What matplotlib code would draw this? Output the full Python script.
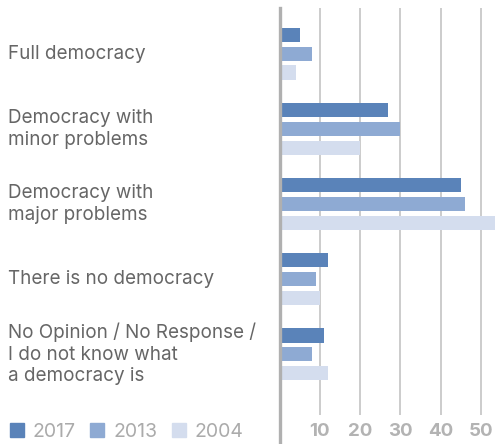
import matplotlib.pyplot as plt
import matplotlib.transforms as mtransforms
from matplotlib.patches import Patch
import numpy as np

categories = ["Full democracy", "Democracy with\nminor problems", "Democracy with\nmajor problems",
              "There is no democracy", "No Opinion / No Response /\nI do not know what\na democracy is"]
years = ["2017", "2013", "2004"]
vals_2017 = [5, 27, 45, 12, 11]
vals_2013 = [8, 30, 46, 9, 8]
vals_2004 = [4, 20, 54, 10, 12]
colors = ["#5a83b9", "#8eaad3", "#d4ddee"]

plt.rcParams['font.family'] = ['Inter', 'DejaVu Sans']

fig = plt.figure(figsize=(4.95, 4.44), dpi=100)
ax = fig.add_axes([279.5 / 495, 1 - 415 / 444, 1 - 279.5 / 495, 407 / 444])

y = np.arange(len(categories))
offs = [-0.247, 0, 0.247]
for vals, off, c in zip([vals_2017, vals_2013, vals_2004], offs, colors):
    ax.barh(y + off, vals, height=0.187, color=c, zorder=2)

ax.set_xlim(0, 53.5)
ax.set_ylim(4.813, -0.613)
ax.set_xticks([10, 20, 30, 40, 50])
ax.set_yticks([])
ax.grid(axis='x', color='#c4c4c4', linewidth=1.2, zorder=0)
for s in ax.spines.values():
    s.set_visible(False)
ax.tick_params(axis='x', length=0, pad=6, labelsize=13.5, labelcolor='#b3b3b3')
for lbl in ax.get_xticklabels():
    lbl.set_fontweight('bold')

# y axis line running down to the bottom
ax.axvline(0, ymin=-0.08, ymax=1, color='#b0b0b0', linewidth=2.4, clip_on=False, zorder=3)

trans = mtransforms.blended_transform_factory(fig.transFigure, ax.transData)
for yi, cat in zip(y, categories):
    ax.text(8 / 495, yi, cat, transform=trans, ha='left', va='center',
            fontsize=13.6, color='#666666', linespacing=1.25)

handles = [Patch(color=c) for c in colors]
fig.legend(handles, years, loc='lower left', bbox_to_anchor=(10 / 495, 3 / 444), ncol=3,
           frameon=False, fontsize=14, labelcolor='#ababab', handlelength=0.72,
           handleheight=0.72, handletextpad=0.45, columnspacing=0.75, borderpad=0,
           borderaxespad=0)

fig.savefig("out.png", dpi=100)
